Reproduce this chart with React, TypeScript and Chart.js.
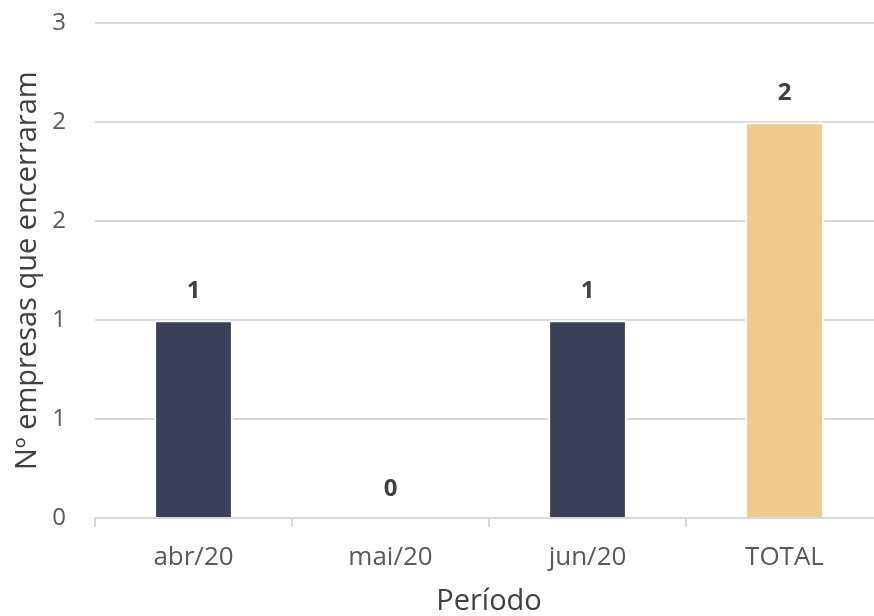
import React, { useEffect, useRef } from "react";
import { Chart, registerables } from "chart.js";

Chart.register(...registerables);

const categories = ["abr/20", "mai/20", "jun/20", "TOTAL"];
const values = [1, 0, 1, 2];
const barColors = ["#3c3f58", "#3c3f58", "#3c3f58", "#f1cb8c"];
const yTitle = "Nº empresas que encerraram";
const xTitle = "Período";

const FONT = "'Open Sans', 'Noto Sans', sans-serif";

const labelPlugin = {
  id: "barLabels",
  afterDatasetsDraw(chart: any) {
    const ctx = chart.ctx;
    const meta = chart.getDatasetMeta(0);
    ctx.save();
    ctx.font = `bold 24px ${FONT}`;
    ctx.fillStyle = "#404040";
    ctx.textAlign = "center";
    ctx.textBaseline = "middle";
    meta.data.forEach((bar: any, i: number) => {
      ctx.fillText(String(values[i]), bar.x, bar.y - 29);
    });
    ctx.restore();
  },
};

export default function App() {
  const ref = useRef<HTMLCanvasElement>(null);
  useEffect(() => {
    const chart = new Chart(ref.current!, {
      type: "bar",
      data: {
        labels: categories,
        datasets: [
          {
            data: values,
            backgroundColor: barColors,
            borderColor: "#ffffff",
            borderWidth: 2,
            categoryPercentage: 1,
            barPercentage: 0.4,
          },
        ],
      },
      options: {
        responsive: false,
        animation: false,
        layout: { autoPadding: false, padding: { top: 23, right: 0, left: 0, bottom: 0 } },
        plugins: { legend: { display: false }, tooltip: { enabled: false } },
        scales: {
          x: {
            afterFit(scale: any) {
              scale.height = 98;
            },
            border: { display: true, color: "#d9d9d9", width: 2 },
            grid: {
              drawOnChartArea: false,
              drawTicks: true,
              tickLength: 9,
              color: "#d9d9d9",
              lineWidth: 2,
              offset: true,
            },
            ticks: {
              color: "#595959",
              padding: 15,
              font: { family: FONT, size: 26 },
            },
            title: {
              display: true,
              text: xTitle,
              color: "#404040",
              font: { family: FONT, size: 29, lineHeight: 1 },
              padding: { top: 0, bottom: 0 },
            },
          },
          y: {
            min: 0,
            max: 2.5,
            afterFit(scale: any) {
              scale.width = 95;
            },
            border: { display: false },
            grid: { color: "#d9d9d9", lineWidth: 2, drawTicks: false },
            ticks: {
              stepSize: 0.5,
              color: "#595959",
              padding: 29,
              font: { family: FONT, size: 24 },
              callback: (v: any) => String(Math.round(Number(v))),
            },
            title: {
              display: true,
              text: yTitle,
              color: "#404040",
              font: { family: FONT, size: 29, lineHeight: 1.2 },
              padding: { top: 10, bottom: 0 },
            },
          },
        },
      },
      plugins: [labelPlugin],
    });
    return () => chart.destroy();
  }, []);
  return (
    <div style={{ position: "fixed", left: 0, top: 0, width: 874, height: 616, overflow: "hidden", background: "#fff" }}>
      <canvas
        ref={ref}
        width={883}
        height={636}
        style={{ display: "block", position: "absolute", left: 0, top: -20 }}
      />
    </div>
  );
}
